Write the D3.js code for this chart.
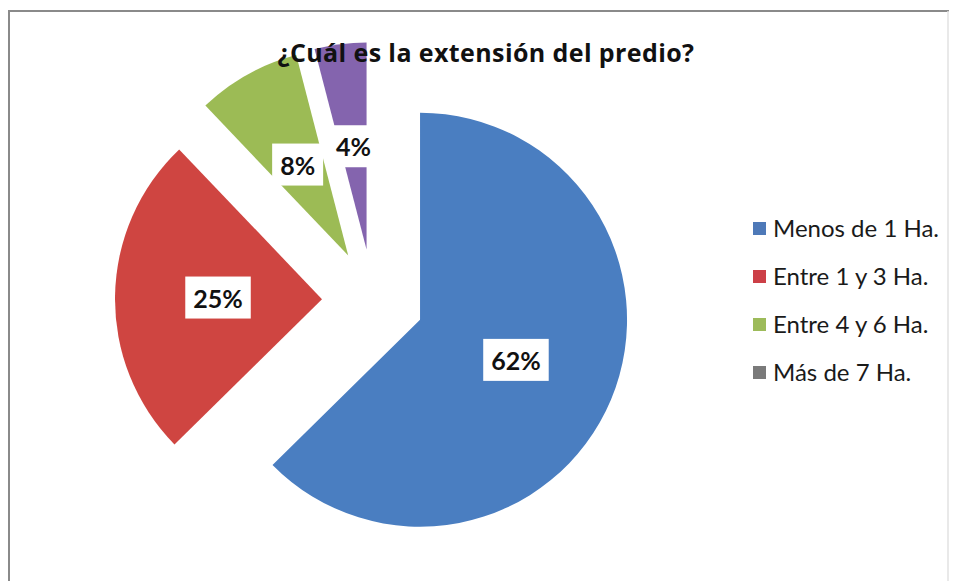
<!DOCTYPE html>
<html>
<head>
<meta charset="utf-8">
<script src="https://cdn.jsdelivr.net/npm/d3@7/dist/d3.min.js"></script>
<style>
  html, body { margin: 0; padding: 0; background: #ffffff; }
  svg { display: block; }
</style>
</head>
<body>
<svg id="chart" width="959" height="581"></svg>
<script>
// Land-size survey results
const title = "¿Cuál es la extensión del predio?";
const categories = ["Menos de 1 Ha.", "Entre 1 y 3 Ha.", "Entre 4 y 6 Ha.", "Más de 7 Ha."];
const values = [62, 25, 8, 4];
const sliceColors = ["#4a7ec1", "#cf4541", "#9cbb55", "#8464ae"];
const legendColors = ["#4e79b8", "#cc3f47", "#9dbb5a", "#7a7a7a"];

const svg = d3.select("#chart");
const W = 959, H = 581;

// frame
svg.append("rect").attr("x", 0).attr("y", 0).attr("width", W).attr("height", H).attr("fill", "#ffffff");
svg.append("line").attr("x1", 9).attr("y1", 11).attr("x2", 9).attr("y2", H).attr("stroke", "#8a8a8a").attr("stroke-width", 2);
svg.append("line").attr("x1", 8).attr("y1", 11).attr("x2", 949).attr("y2", 11).attr("stroke", "#8a8a8a").attr("stroke-width", 2);
svg.append("line").attr("x1", 948).attr("y1", 11).attr("x2", 948).attr("y2", H).attr("stroke", "#e2e2e2").attr("stroke-width", 1.5);

// exploded pie
const cx = 373, cy = 300, R = 207, explode = 51, labelR = 104;
const pie = d3.pie().sort(null).value(d => d)(values);
const arc = d3.arc().innerRadius(0).outerRadius(R);
const labelArc = d3.arc().innerRadius(labelR).outerRadius(labelR);

const g = svg.append("g").attr("transform", `translate(${cx},${cy})`);
const slices = g.selectAll("g.slice").data(pie).join("g")
  .attr("class", "slice")
  .attr("transform", d => {
    const m = (d.startAngle + d.endAngle) / 2;
    return `translate(${Math.sin(m) * explode},${-Math.cos(m) * explode})`;
  });
slices.append("path").attr("d", arc).attr("fill", (d, i) => sliceColors[i]);

// value labels in white boxes
slices.each(function (d, i) {
  const [lx, ly] = labelArc.centroid(d);
  const sel = d3.select(this);
  const box = sel.append("rect").attr("fill", "#ffffff");
  const t = sel.append("text")
    .attr("x", lx).attr("y", ly)
    .attr("text-anchor", "middle")
    .attr("dominant-baseline", "central")
    .attr("font-family", "Lato, 'Open Sans', sans-serif")
    .attr("font-weight", "bold")
    .attr("font-size", 25)
    .attr("fill", "#111111")
    .text(values[i] + "%");
  const w = t.node().getComputedTextLength();
  box.attr("x", lx - w / 2 - 8).attr("y", ly - 21).attr("width", w + 16).attr("height", 42);
});

// title
svg.append("text")
  .attr("x", 486).attr("y", 62)
  .attr("text-anchor", "middle")
  .attr("font-family", "'Open Sans', Lato, sans-serif")
  .attr("font-weight", "bold")
  .attr("font-size", 25)
  .attr("letter-spacing", 0.4)
  .attr("fill", "#111111")
  .text(title);

// legend
const legend = svg.append("g").attr("transform", "translate(753,0)");
const rows = legend.selectAll("g").data(categories).join("g")
  .attr("transform", (d, i) => `translate(0,${237 + i * 48})`);
rows.append("rect").attr("x", 0).attr("y", -15).attr("width", 13).attr("height", 13)
  .attr("fill", (d, i) => legendColors[i]);
rows.append("text").attr("x", 20).attr("y", 0)
  .attr("font-family", "Lato, 'Open Sans', sans-serif")
  .attr("font-size", 24)
  .attr("fill", "#1a1a1a")
  .text(d => d);
</script>
</body>
</html>
